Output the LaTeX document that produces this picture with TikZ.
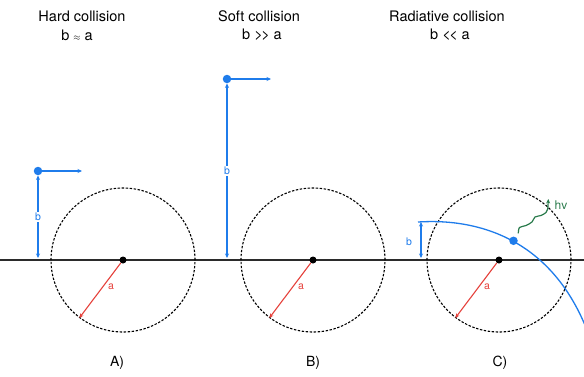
\documentclass[tikz,border=0pt]{standalone}
\usepackage{fontspec}
\setmainfont{TeX Gyre Heros}
\usetikzlibrary{arrows.meta,positioning}
\definecolor{beamblue}{HTML}{1F7CEB}
\definecolor{radred}{HTML}{E5403A}
\definecolor{photongreen}{HTML}{2A7B4C}
\definecolor{axisgray}{HTML}{2B2B2B}

\begin{document}
\begin{tikzpicture}[
  x=1pt, y=-1pt,
  >={Stealth[length=4.5pt,width=4pt]},
  title/.style={font=\fontsize{14.5}{17}\selectfont, align=center, inner sep=0pt},
  panel/.style={font=\fontsize{14}{16}\selectfont, inner sep=0pt},
  ring/.style={draw, circle, dashed, dash pattern=on 2.4pt off 1.6pt, line width=1.1pt, minimum size=144pt, inner sep=0pt},
  nucleus/.style={circle, fill=black, minimum size=7pt, inner sep=0pt},
  charge/.style={circle, fill=beamblue, minimum size=8.5pt, inner sep=0pt},
  radius/.style={draw=radred, ->, line width=1.1pt},
  impact/.style={draw=beamblue, <->, line width=1.2pt},
  velocity/.style={draw=beamblue, ->, line width=1.2pt},
  lbl/.style={font=\fontsize{10.5}{12}\selectfont, inner sep=1pt}
]
  \useasboundingbox (0,0) rectangle (584,376);

  % titles
  \node[title] (tA) at (82,16) {Hard collision};
  \node[title] (cA) at (77,35) {b {\small$\approx$} a};
  \node[title] (tB) at (259,16) {Soft collision};
  \node[title] (cB) at (262,35) {b {>}\kern-1.5pt{>} a};
  \node[title] (tC) at (447,16) {Radiative collision};
  \node[title] (cC) at (450,35) {b {<}\kern-1.5pt{<} a};

  % axis
  \coordinate (west) at (0,260);
  \coordinate (east) at (584,260);
  \draw[axisgray, line width=1.3pt] (west) -- (east);

  % circles and nuclei
  \node[ring] (ringA) at (123,260) {};
  \node[ring] (ringB) at (313,260) {};
  \node[ring] (ringC) at (499,260) {};
  \node[nucleus] (nucA) at (ringA.center) {};
  \node[nucleus] (nucB) at (ringB.center) {};
  \node[nucleus] (nucC) at (ringC.center) {};

  % radius a
  \draw[radius] (nucA) -- (ringA.233);
  \draw[radius] (nucB) -- (ringB.233);
  \draw[radius] (nucC) -- (ringC.233);
  \node[lbl, text=radred] (aA) at (111,287) {a};
  \node[lbl, text=radred] (aB) at (301,287) {a};
  \node[lbl, text=radred] (aC) at (487,287) {a};

  % A) hard collision
  \node[charge] (qA) at (38,171) {};
  \coordinate (vA) at (82,171);
  \coordinate (footA) at (38,258);
  \draw[velocity] (qA) -- (vA);
  \draw[impact] (qA) -- (footA) node[midway, fill=white, text=beamblue, lbl] {b};

  % B) soft collision
  \node[charge] (qB) at (227,79) {};
  \coordinate (vB) at (271,79);
  \coordinate (footB) at (227,258);
  \draw[velocity] (qB) -- (vB);
  \draw[impact] (qB) -- (footB) node[midway, fill=white, text=beamblue, lbl] {b};

  % C) radiative collision
  \coordinate (startC) at (418,222);
  \coordinate (endC) at (590,338);
  \coordinate (topC) at (421,222);
  \coordinate (footC) at (421,258);
  \draw[beamblue, line width=1.3pt] (startC) .. controls (480,218) and (555,240) .. (endC);
  \node[charge] (qC) at (513.5,240.8) {};
  \draw[impact] (topC) -- (footC);
  \node[lbl, text=beamblue] (bC) at (409,242) {b};
  \draw[photongreen, ->, line width=1.2pt] plot[smooth] coordinates
    {(518.3,233.3) (519.5,227.5) (526,225.5) (532,222) (535,217) (541,215.5) (546,212.5) (547.7,209) (548.3,199)};
  \node[lbl, text=photongreen, font=\fontsize{12}{14}\selectfont] (hv) at (561,205) {hv};

  % panel labels
  \node[panel] (pA) at (117,363) {A)};
  \node[panel] (pB) at (313,363) {B)};
  \node[panel] (pC) at (500,363) {C)};
\end{tikzpicture}
\end{document}
